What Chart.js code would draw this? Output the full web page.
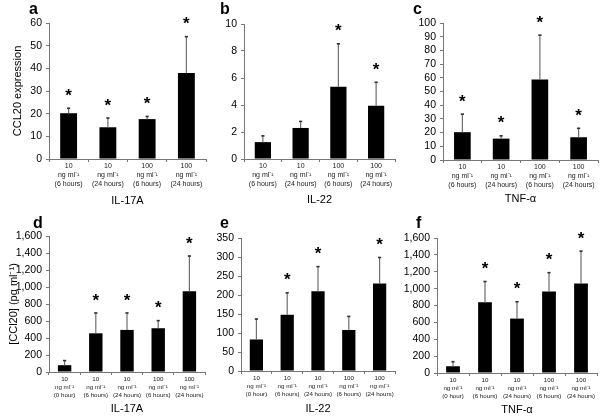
<!DOCTYPE html>
<html>
<head>
<meta charset="utf-8">
<script src="https://cdn.jsdelivr.net/npm/chart.js@4/dist/chart.umd.min.js"></script>
<style>
html,body{margin:0;padding:0;background:#fff;width:603px;height:419px;overflow:hidden;}
canvas{position:absolute;}
</style>
</head>
<body>
<script>
// ---------- data ----------
const labels4 = [['10','ng ml⁻¹','(6 hours)'], ['10','ng ml⁻¹','(24 hours)'], ['100','ng ml⁻¹','(6 hours)'], ['100','ng ml⁻¹','(24 hours)']];
const labels5 = [['10','ng ml⁻¹','(0 hour)'], ['10','ng ml⁻¹','(6 hours)'], ['10','ng ml⁻¹','(24 hours)'], ['100','ng ml⁻¹','(6 hours)'], ['100','ng ml⁻¹','(24 hours)']];

const valsA = [20.2, 14.0, 17.6, 37.9];
const errA  = [22.6, 18.3, 19.0, 54.2];
const sigA  = [1, 1, 1, 1];

const valsB = [1.25, 2.3, 5.35, 3.95];
const errB  = [1.75, 2.82, 8.57, 5.72];
const sigB  = [0, 0, 1, 1];

const valsC = [20.3, 15.6, 58.8, 16.6];
const errC  = [33.8, 18.0, 91.5, 23.5];
const sigC  = [1, 1, 1, 1];

const valsD = [80, 455, 495, 515, 950];
const errD  = [140, 700, 700, 610, 1370];
const sigD  = [0, 1, 1, 1, 1];

const valsE = [83, 148, 210, 108, 230];
const errE  = [138, 207, 276, 145, 300];
const sigE  = [0, 1, 1, 0, 1];

const valsF = [80, 840, 645, 965, 1060];
const errF  = [140, 1090, 850, 1195, 1450];
const sigF  = [0, 1, 1, 1, 1];

const FONT = "'Liberation Sans', Arial, sans-serif";

// ---------- panel layout ----------
const panels = [
  {letter:'a', cl:0,   ct:0,   w:212, h:210, L:49,  T:23,  R:206, B:159, ymax:60,   step:10,  labels:labels4, vals:valsA, err:errA, sig:sigA, xTitle:'IL-17A', yTitle:'CCL20 expression', lx:29,  ly:14,  tf:7,   tlh:8.7, tpad:0, titleY:201},
  {letter:'b', cl:212, ct:0,   w:188, h:210, L:244, T:24,  R:395, B:159, ymax:10,   step:2,   labels:labels4, vals:valsB, err:errB, sig:sigB, xTitle:'IL-22',  yTitle:'',                 lx:220, ly:14,  tf:7,   tlh:8.7, tpad:0, titleY:200},
  {letter:'c', cl:400, ct:0,   w:203, h:210, L:443, T:23,  R:598, B:160, ymax:100,  step:10,  labels:labels4, vals:valsC, err:errC, sig:sigC, xTitle:'TNF-α',  yTitle:'',                 lx:413, ly:14,  tf:7,   tlh:8.7, tpad:0, titleY:199},
  {letter:'d', cl:0,   ct:210, w:212, h:209, L:49,  T:236, R:205, B:372, ymax:1600, step:200, labels:labels5, vals:valsD, err:errD, sig:sigD, xTitle:'IL-17A', yTitle:'[CCl20] (pg ml⁻¹)', lx:33, ly:228, tf:6.2, tlh:8.3, tpad:0, titleY:409},
  {letter:'e', cl:212, ct:210, w:186, h:209, L:241, T:238, R:395, B:371, ymax:350,  step:50,  labels:labels5, vals:valsE, err:errE, sig:sigE, xTitle:'IL-22',  yTitle:'',                 lx:220, ly:228, tf:6.2, tlh:8.3, tpad:0, titleY:409},
  {letter:'f', cl:398, ct:210, w:205, h:209, L:437, T:238, R:597, B:373, ymax:1600, step:200, labels:labels5, vals:valsF, err:errF, sig:sigF, xTitle:'TNF-α',  yTitle:'',                 lx:416, ly:228, tf:6.2, tlh:8.3, tpad:0, titleY:410}
];

const extrasPlugin = {
  id: 'extras',
  afterDatasetsDraw(chart, args, opts) {
    const p = opts.panel;
    const ctx = chart.ctx;
    const ys = chart.scales.y;
    const meta = chart.getDatasetMeta(0);
    ctx.save();
    meta.data.forEach((bar, i) => {
      const yTop = ys.getPixelForValue(p.err[i]);
      // error bar
      ctx.strokeStyle = '#6e6e6e';
      ctx.lineWidth = 1.2;
      ctx.beginPath();
      ctx.moveTo(bar.x, bar.y);
      ctx.lineTo(bar.x, yTop);
      ctx.stroke();
      ctx.strokeStyle = '#333';
      ctx.lineWidth = 1.6;
      ctx.beginPath();
      ctx.moveTo(bar.x - 1.6, yTop + 0.5);
      ctx.lineTo(bar.x + 1.6, yTop + 0.5);
      ctx.stroke();
      // significance star
      if (p.sig[i]) {
        ctx.fillStyle = '#000';
        ctx.font = 'bold 17px ' + FONT;
        ctx.textAlign = 'center';
        ctx.textBaseline = 'alphabetic';
        ctx.fillText('*', bar.x, yTop - 7);
      }
    });
    // panel letter
    ctx.fillStyle = '#000';
    ctx.font = 'bold 16px ' + FONT;
    ctx.textAlign = 'left';
    ctx.textBaseline = 'alphabetic';
    ctx.fillText(p.letter, p.lx - p.cl, p.ly - p.ct);
    ctx.restore();
  }
};

panels.forEach(p => {
  const cv = document.createElement('canvas');
  cv.width = p.w; cv.height = p.h;
  cv.style.left = p.cl + 'px'; cv.style.top = p.ct + 'px';
  cv.style.width = p.w + 'px'; cv.style.height = p.h + 'px';
  document.body.appendChild(cv);

  const yAxisW = p.L - p.cl;
  const xAxisH = p.ct + p.h - p.B;
  const titleLH = 13;
  const titlePadBottom = (p.ct + p.h) - p.titleY - titleLH / 2;

  new Chart(cv, {
    type: 'bar',
    data: {
      labels: p.labels,
      datasets: [{
        data: p.vals,
        backgroundColor: '#000',
        borderWidth: 0,
        categoryPercentage: 1.0,
        barPercentage: 0.43
      }]
    },
    options: {
      responsive: false,
      animation: false,
      devicePixelRatio: 1,
      locale: 'en-US',
      layout: { padding: { top: p.T - p.ct, right: p.cl + p.w - p.R, left: 0, bottom: 0 } },
      plugins: {
        legend: { display: false },
        tooltip: { enabled: false },
        extras: { panel: p }
      },
      scales: {
        x: {
          offset: true,
          afterFit(s) { s.height = xAxisH; },
          grid: { display: true, offset: true, drawOnChartArea: false, drawTicks: true, tickLength: 3, color: '#777', lineWidth: 1 },
          border: { display: true, color: '#777', width: 1 },
          ticks: { color: '#222', font: { family: FONT, size: p.tf, lineHeight: p.tlh / p.tf }, padding: p.tpad, maxRotation: 0, minRotation: 0, autoSkip: false },
          title: { display: true, text: p.xTitle, color: '#000', font: { family: FONT, size: 11, lineHeight: titleLH / 11 }, padding: { top: 0, bottom: titlePadBottom } }
        },
        y: {
          min: 0, max: p.ymax,
          afterFit(s) { s.width = yAxisW; },
          grid: { display: true, drawOnChartArea: false, drawTicks: true, tickLength: 3, color: '#777', lineWidth: 1 },
          border: { display: true, color: '#777', width: 1 },
          ticks: { stepSize: p.step, autoSkip: false, color: '#000', font: { family: FONT, size: 10.5 }, padding: 4 },
          title: { display: !!p.yTitle, text: p.yTitle, color: '#000', font: { family: FONT, size: 11, lineHeight: 1.2 }, padding: { top: p.letter === 'a' ? 11 : 7, bottom: 0 } }
        }
      }
    },
    plugins: [extrasPlugin]
  });
});
</script>
</body>
</html>
